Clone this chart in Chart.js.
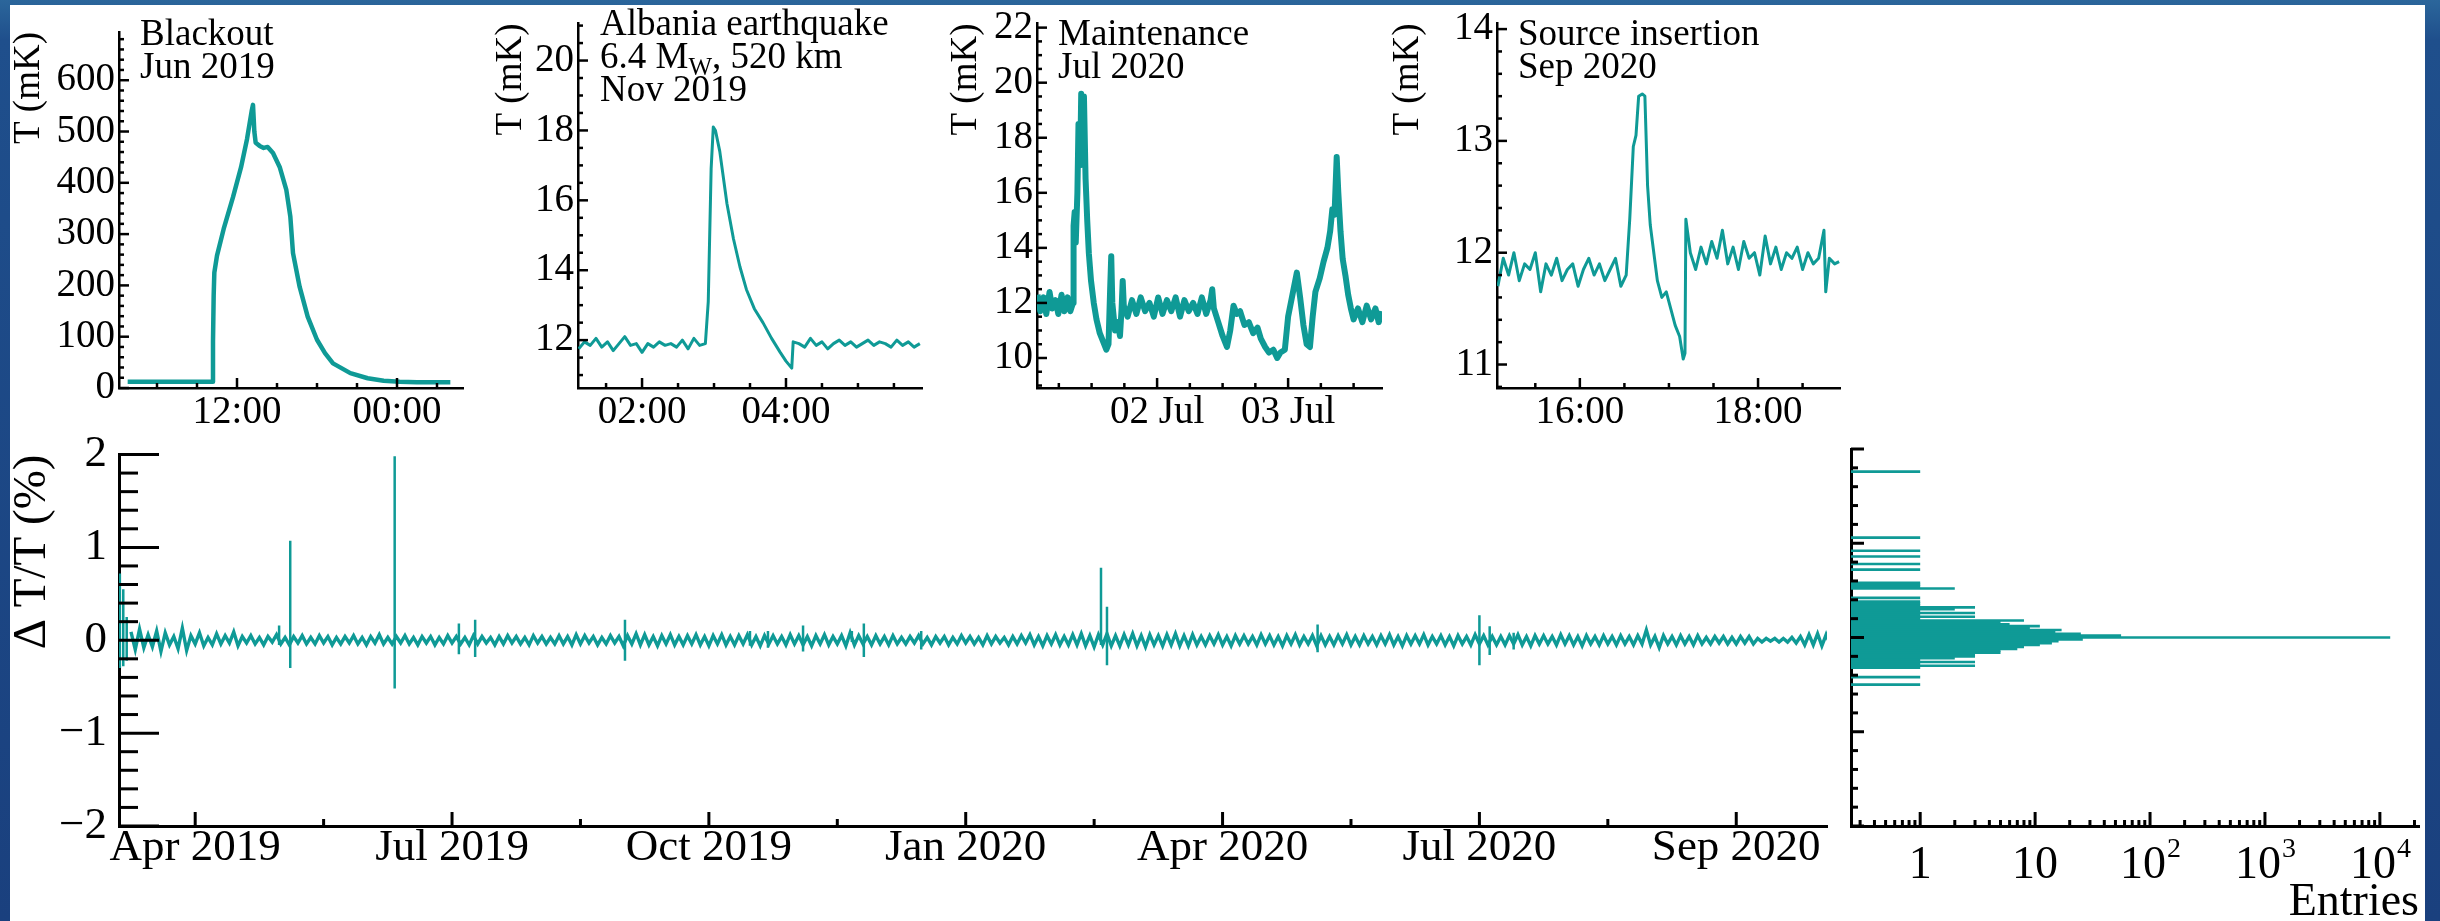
<!DOCTYPE html>
<html>
<head>
<meta charset="utf-8">
<title>Temperature stability</title>
<script src="https://cdn.jsdelivr.net/npm/chart.js@4.4.1/dist/chart.umd.min.js"></script>
<style>
  html, body { margin: 0; padding: 0; }
  body {
    width: 2440px; height: 921px; overflow: hidden; position: relative;
    background: linear-gradient(180deg, #2b669b 0px, #1f4f8c 40px, #1a407e 921px);
    font-family: "Liberation Serif", "Times New Roman", serif;
  }
  #panel { position: absolute; left: 10px; top: 5px; width: 2415px; height: 916px; background: #fff; }
  .box { position: absolute; }
  .box canvas { display: block; }
  .note { position: absolute; font-size: 37px; line-height: 33px; color: #000; white-space: nowrap; }
  .note sub { font-size: 25px; line-height: 0; vertical-align: -7px; }
</style>
</head>
<body>
<div id="panel"></div>
<div class="box" id="boxBlackout"><canvas id="blackoutChart"></canvas></div>
<div class="box" id="boxQuake"><canvas id="quakeChart"></canvas></div>
<div class="box" id="boxMaint"><canvas id="maintChart"></canvas></div>
<div class="box" id="boxSource"><canvas id="sourceChart"></canvas></div>
<div class="box" id="boxMain"><canvas id="mainChart"></canvas></div>
<div class="box" id="boxHist"><canvas id="histChart"></canvas></div>
<div class="note" style="left:140px; top:16px">Blackout<br>Jun 2019</div>
<div class="note" style="left:600px; top:6px">Albania earthquake<br>6.4 M<sub>W</sub>, 520 km<br>Nov 2019</div>
<div class="note" style="left:1058px; top:16px">Maintenance<br>Jul 2020</div>
<div class="note" style="left:1518px; top:16px">Source insertion<br>Sep 2020</div>
<script>
const TEAL = '#0f9a96';
const FONT = '"Liberation Serif", "Times New Roman", serif';

// ---- inset 1: blackout, Jun 2019 (hours from midnight of first day, mK)
const blackoutHours = [3.8, 5.0, 6.5, 8.0, 9.5, 10.15, 10.2, 10.25, 10.3, 10.5,
  11.0, 11.7, 12.3, 12.75, 13.1, 13.2, 13.3, 13.4, 13.7, 14.0,
  14.3, 14.7, 15.2, 15.7, 16.0, 16.2, 16.7, 17.3, 18.0, 18.6,
  19.2, 20.5, 21.8, 23.0, 24.2, 25.5, 27.0, 28.0];
const blackoutTemps = [12, 12, 12, 12, 12, 12, 90, 180, 225, 258,
  310, 372, 430, 485, 540, 552, 500, 478, 472, 468,
  470, 458, 431, 386, 334, 263, 197, 139, 94, 68,
  48, 29, 19, 14, 12, 11, 11, 11];
const blackoutTickHours = [12, 24];
const blackoutTickLabels = ['12:00', '00:00'];
const blackoutTempTicks = [0, 100, 200, 300, 400, 500, 600];

// ---- inset 2: Albania earthquake, Nov 2019
const quakeHours = [1.12, 1.2, 1.28, 1.36, 1.44, 1.52, 1.6, 1.68, 1.76, 1.84, 1.92, 2.0,
  2.08, 2.16, 2.24, 2.32, 2.4, 2.48, 2.56, 2.64, 2.72, 2.8, 2.88,
  2.92, 2.96, 2.99, 3.02, 3.08, 3.18, 3.27, 3.36, 3.45, 3.56, 3.68, 3.8, 3.92, 4.0, 4.08,
  4.1, 4.18, 4.26, 4.34, 4.42, 4.5, 4.58, 4.66, 4.74, 4.82, 4.9, 4.98,
  5.06, 5.14, 5.22, 5.3, 5.38, 5.46, 5.54, 5.62, 5.7, 5.78, 5.86];
const quakeTemps = [11.75, 11.95, 11.85, 12.05, 11.8, 11.95, 11.7, 11.9, 12.1, 11.85, 11.9, 11.65,
  11.9, 11.8, 11.95, 11.85, 11.9, 11.8, 12.0, 11.75, 12.05, 11.85, 11.9,
  13.1, 16.9, 18.1, 18.0, 17.4, 15.9, 14.9, 14.1, 13.45, 12.9, 12.5, 12.05, 11.65, 11.4, 11.2,
  11.95, 11.9, 11.8, 12.05, 11.85, 11.95, 11.75, 11.9, 12.0, 11.85, 11.95, 11.8,
  11.9, 12.0, 11.85, 11.95, 11.9, 11.8, 12.0, 11.85, 11.95, 11.8, 11.9];
const quakeTickHours = [2, 4];
const quakeTickLabels = ['02:00', '04:00'];
const quakeTempTicks = [12, 14, 16, 18, 20];

// ---- inset 3: maintenance, Jul 2020 (hours since 01 Jul 00:00)
const maintHours = [2.1, 2.6, 3.2, 3.7, 4.3, 4.8, 5.4, 5.9, 6.5, 7.0,
  7.6, 8.1, 8.6, 8.7, 8.9, 9.1, 9.4, 9.6, 9.9, 10.1,
  10.4, 10.6, 10.9, 11.2, 11.5, 11.9, 12.4, 12.9, 13.5, 14.1,
  14.7, 15.1, 15.4, 15.6, 15.8, 16.3, 16.8, 17.2, 17.5, 17.7,
  17.9, 18.6, 19.4, 20.2, 21.0, 21.8, 22.6, 23.4, 24.2, 25.0,
  25.8, 26.6, 27.4, 28.2, 29.0, 29.8, 30.6, 31.4, 32.2, 33.0,
  33.8, 34.1, 34.4, 35.2, 36.0, 36.8, 37.4, 38.0, 38.6, 39.2,
  40.0, 40.8, 41.6, 42.4, 43.0, 43.8, 44.5, 45.3, 46.0, 46.6,
  47.4, 48.0, 48.8, 49.6, 50.2, 50.8, 51.4, 52.0, 52.5, 53.0,
  53.8, 54.5, 55.2, 55.7, 56.1, 56.5, 56.9, 57.2, 57.6, 58.0,
  58.5, 59.0, 59.5, 60.0, 60.8, 61.6, 62.4, 63.2, 64.0, 64.6, 65.1];
const maintTemps = [12.3, 11.7, 12.2, 11.6, 12.4, 11.8, 12.1, 11.6, 12.3, 11.7,
  12.2, 11.7, 12.0, 14.8, 15.3, 14.2, 16.0, 18.5, 17.0, 19.6,
  18.2, 19.5, 16.5, 15.0, 13.8, 12.8, 12.0, 11.4, 10.9, 10.6,
  10.3, 10.5, 12.5, 13.7, 12.0, 11.0, 11.3, 10.8, 11.8, 12.8,
  11.9, 11.5, 12.1, 11.6, 12.2, 11.7, 12.0, 11.5, 12.2, 11.6,
  12.1, 11.7, 12.2, 11.5, 12.1, 11.7, 12.0, 11.6, 12.2, 11.6,
  12.1, 12.5, 11.8, 11.3, 10.8, 10.4, 11.0, 11.9, 11.6, 11.7,
  11.2, 11.3, 10.9, 11.1, 10.7, 10.4, 10.2, 10.3, 10.0, 10.2,
  10.3, 11.5, 12.3, 13.1, 12.2, 11.2, 10.5, 10.4, 11.5, 12.4,
  12.9, 13.5, 14.0, 14.6, 15.4, 15.2, 17.3, 16.0, 14.6, 13.6,
  13.0, 12.3, 11.8, 11.4, 11.8, 11.3, 11.9, 11.4, 11.8, 11.3, 11.7];
const maintTickHours = [24, 48];
const maintTickLabels = ['02 Jul', '03 Jul'];
const maintTempTicks = [10, 12, 14, 16, 18, 20, 22];

// ---- inset 4: source insertion, Sep 2020
const sourceHours = [15.08, 15.14, 15.2, 15.26, 15.32, 15.38, 15.44, 15.5, 15.56, 15.62,
  15.68, 15.74, 15.8, 15.86, 15.92, 15.98, 16.04, 16.1, 16.16, 16.22,
  16.28, 16.34, 16.4, 16.46, 16.52,
  16.56, 16.6, 16.63, 16.66, 16.7, 16.73, 16.76, 16.79, 16.83, 16.87,
  16.92, 16.97, 17.02, 17.07, 17.12, 17.16, 17.18, 17.19,
  17.24, 17.3, 17.36, 17.42, 17.48, 17.54, 17.6, 17.66, 17.72, 17.78,
  17.84, 17.9, 17.96, 18.02, 18.08, 18.14, 18.2, 18.26, 18.32, 18.38,
  18.44, 18.5, 18.56, 18.62, 18.68, 18.74, 18.76, 18.8, 18.86, 18.91];
const sourceTemps = [11.7, 11.95, 11.8, 12.0, 11.75, 11.9, 11.85, 12.0, 11.65, 11.9,
  11.8, 11.95, 11.75, 11.85, 11.9, 11.7, 11.85, 11.95, 11.8, 11.9,
  11.75, 11.85, 11.95, 11.7, 11.8,
  12.3, 12.95, 13.05, 13.4, 13.42, 13.4, 12.6, 12.25, 12.0, 11.75,
  11.6, 11.65, 11.5, 11.35, 11.25, 11.05, 11.1, 12.3,
  12.0, 11.85, 12.05, 11.9, 12.1, 11.95, 12.2, 11.9, 12.05, 11.85,
  12.1, 11.95, 12.0, 11.8, 12.15, 11.9, 12.05, 11.85, 12.0, 11.95,
  12.05, 11.85, 12.0, 11.9, 11.95, 12.2, 11.65, 11.95, 11.9, 11.92];
const sourceTickHours = [16, 18];
const sourceTickLabels = ['16:00', '18:00'];
const sourceTempTicks = [11, 12, 13, 14];

// ---- main panel: relative deviation, x in months since 1 Apr 2019
// noise samples every 0.05 month, values in hundredths of a percent
const noiseStartMonth = -0.75;
const noiseStepMonth = 0.05;
const mainNoiseCenti = [
  9, -10, 12, -8, 6, -7, 10, -12, 8, -5, 4, -9, 13, -11, 5, -4, 8, -6, 3, -5,
  7, -4, 5, -3, 9, -6, 4, -3, 5, -4, 3, -5, 4, -2, 6, -4, 3, -5, 4, -3,
  5, -4, 3, -4, 5, -3, 4, -5, 3, -4, 4, -3, 5, -4, 3, -5, 4, -3, 6, -4,
  3, -4, 4, -3, 5, -4, 3, -5, 4, -3, 4, -5, 3, -4, 5, -3, 4, -4, 3, -5,
  5, -4, 4, -3, 3, -5, 4, -4, 5, -3, 4, -4, 3, -5, 5, -3, 4, -4, 3, -4,
  5, -4, 4, -5, 6, -4, 5, -3, 4, -5, 3, -4, 5, -3, 4, -6, 5, -4, 7, -5,
  6, -5, 4, -6, 5, -4, 6, -5, 4, -5, 5, -4, 6, -5, 4, -6, 5, -4, 6, -5,
  4, -5, 5, -4, 6, -5, 4, -6, 5, -4, 5, -4, 4, -5, 6, -4, 5, -5, 4, -6,
  5, -4, 6, -5, 4, -4, 5, -6, 8, -5, 5, -4, 4, -5, 5, -4, 4, -5, 5, -4,
  3, -4, 4, -3, 5, -4, 3, -5, 4, -3, 4, -5, 3, -4, 5, -3, 4, -4, 3, -5,
  5, -4, 4, -3, 3, -5, 4, -4, 5, -3, 6, -5, 4, -6, 5, -4, 6, -5, 4, -5,
  6, -5, 7, -6, 5, -7, 6, -5, 7, -6, 5, -6, 6, -5, 7, -6, 5, -7, 6, -5,
  5, -6, 6, -5, 7, -6, 5, -6, 6, -5, 4, -5, 5, -4, 6, -5, 4, -6, 5, -4,
  5, -4, 4, -5, 6, -4, 5, -5, 4, -6, 5, -4, 6, -5, 4, -4, 5, -6, 5, -5,
  4, -5, 5, -4, 6, -5, 4, -5, 5, -4, 4, -5, 5, -4, 6, -5, 4, -6, 5, -4,
  5, -4, 6, -5, 4, -4, 5, -5, 4, -6, 5, -4, 4, -5, 6, -4, 5, -5, 4, -5,
  4, -5, 5, -4, 6, -5, 4, -6, 5, -4, 5, -4, 4, -5, 6, -4, 5, -5, 4, -6,
  5, -4, 4, -5, 5, -4, 4, -5, 5, -4, 4, -5, 5, -4, 11, -5, 4, -8, 5, -4,
  4, -5, 5, -4, 4, -5, 5, -4, 3, -4, 4, -3, 4, -4, 3, -4, 4, -3, 4, -4,
  2, -2, 2, -1, 2, -2, 2, -2, 3, -3, 4, -5, 6, -5, 7, -6, 6, -5];
const spikeMonths = [-0.88, -0.84, -0.80, 0.98, 1.11, 2.33, 3.08, 3.27, 5.02, 6.48, 6.69,
  7.10, 7.67, 7.81, 8.48, 10.58, 10.65, 13.11, 15.00, 15.12, 15.40];
const spikeHighs = [0.72, 0.55, 0.25, 0.16, 1.07, 1.98, 0.18, 0.22, 0.22, 0.10, 0.10,
  0.16, 0.10, 0.18, 0.10, 0.78, 0.36, 0.17, 0.27, 0.15, 0.08];
const spikeLows = [-0.30, -0.28, -0.22, -0.05, -0.30, -0.52, -0.15, -0.18, -0.22, -0.06, -0.08,
  -0.12, -0.02, -0.18, -0.10, -0.05, -0.27, -0.13, -0.27, -0.16, -0.10];
const mainTickMonths = [0, 3, 6, 9, 12, 15, 18];
const mainTickLabels = ['Apr 2019', 'Jul 2019', 'Oct 2019', 'Jan 2020', 'Apr 2020', 'Jul 2020', 'Sep 2020'];
const deltaTicks = [-2, -1, 0, 1, 2];

// ---- projection histogram
const histBins = [1.76, 1.06, 0.92, 0.86, 0.78, 0.72, 0.58, 0.56, 0.54, 0.52,
  0.42, 0.38, 0.36, 0.34, 0.32, 0.30, 0.28, 0.26, 0.24, 0.22,
  0.20, 0.18, 0.16, 0.14, 0.12, 0.10, 0.08, 0.06, 0.04, 0.02,
  0.00, -0.02, -0.04, -0.06, -0.08, -0.10, -0.12, -0.14, -0.16, -0.18,
  -0.20, -0.22, -0.24, -0.26, -0.28, -0.30, -0.32, -0.42, -0.50];
const histCounts = [1, 1, 1, 1, 1, 1, 1, 1, 1, 2,
  1, 1, 1, 1, 3, 2, 1, 3, 1, 3,
  1, 8, 5, 6, 11, 9, 17, 15, 25, 56,
  12300, 26, 16, 14, 11, 8, 7, 5, 5, 3,
  3, 2, 1, 3, 1, 3, 1, 1, 1];
const histTickValues = [1, 10, 100, 1000, 10000];
const histTickLabels = ['1', '10', '10^2', '10^3', '10^4'];

// inward ROOT-style tick marks
const axisTicks = {
  id: 'axisTicks',
  afterDatasetsDraw(chart, args, opts) {
    const ctx = chart.ctx;
    const a = chart.chartArea;
    ctx.save();
    ctx.strokeStyle = '#000';
    ctx.lineWidth = opts.width;
    ['x', 'y'].forEach(id => {
      const spec = opts[id];
      const scale = chart.scales[id];
      if (!spec || !scale) return;
      const majors = scale.ticks.map(t => t.value);
      const minors = [];
      if (scale.type === 'logarithmic') {
        for (let e = Math.floor(Math.log10(scale.min)); e <= Math.ceil(Math.log10(scale.max)); e++) {
          for (let k = 2; k < 10; k++) minors.push(k * Math.pow(10, e));
        }
      } else {
        const first = Math.ceil(scale.min / spec.minorStep - 1e-6);
        for (let i = first; i * spec.minorStep <= scale.max + 1e-9; i++) minors.push(i * spec.minorStep);
      }
      const mark = (v, len) => {
        if (v < scale.min - 1e-9 || v > scale.max + 1e-9) return;
        const p = scale.getPixelForValue(v);
        ctx.beginPath();
        if (id === 'x') { ctx.moveTo(p, a.bottom); ctx.lineTo(p, a.bottom - len); }
        else { ctx.moveTo(a.left, p); ctx.lineTo(a.left + len, p); }
        ctx.stroke();
      };
      minors.forEach(v => {
        if (!majors.some(m => Math.abs(m - v) < 1e-6 * Math.max(1, Math.abs(m)))) mark(v, spec.minorLen);
      });
      majors.forEach(v => mark(v, spec.majorLen));
    });
    ctx.restore();
  }
};

// 10^n labels under the log axis
const powerLabels = {
  id: 'powerLabels',
  afterDraw(chart, args, opts) {
    const ctx = chart.ctx;
    const scale = chart.scales.x;
    const baseline = chart.chartArea.bottom + opts.drop;
    ctx.save();
    ctx.fillStyle = '#000';
    ctx.textBaseline = 'alphabetic';
    ctx.textAlign = 'left';
    histTickValues.forEach((v, i) => {
      const [base, power] = histTickLabels[i].split('^');
      ctx.font = opts.size + 'px ' + FONT;
      const wb = ctx.measureText(base).width;
      let wp = 0;
      if (power) { ctx.font = opts.supSize + 'px ' + FONT; wp = ctx.measureText(power).width; }
      const x0 = scale.getPixelForValue(v) - (wb + wp) / 2;
      ctx.font = opts.size + 'px ' + FONT;
      ctx.fillText(base, x0, baseline);
      if (power) {
        ctx.font = opts.supSize + 'px ' + FONT;
        ctx.fillText(power, x0 + wb + 1, baseline - opts.supRise);
      }
    });
    ctx.restore();
  }
};

function place(boxId, canvasId, canvasRect, plotRect) {
  const [cl, ct, cr, cb] = canvasRect;
  const [pl, pt, pr, pb] = plotRect;
  const box = document.getElementById(boxId);
  box.style.left = cl + 'px';
  box.style.top = ct + 'px';
  const canvas = document.getElementById(canvasId);
  canvas.width = cr - cl;
  canvas.height = cb - ct;
  return {
    padding: {left: 0, top: pt - ct, right: cr - pr, bottom: 0},
    yWidth: pl - cl,
    xHeight: cb - pb
  };
}

function drawInset(canvasId, boxId, canvasRect, plotRect, c) {
  const L = place(boxId, canvasId, canvasRect, plotRect);
  new Chart(canvasId, {
    type: 'line',
    data: {
      datasets: [{
        data: c.xs.map((x, i) => ({x: x, y: c.ys[i]})),
        borderColor: TEAL,
        borderWidth: c.lineWidth,
        borderJoinStyle: 'round',
        pointRadius: 0,
        tension: 0
      }]
    },
    options: {
      responsive: false,
      animation: false,
      events: [],
      layout: {padding: L.padding},
      plugins: {
        legend: {display: false},
        tooltip: {enabled: false},
        axisTicks: {
          width: 2.5,
          x: {minorStep: c.xMinor, majorLen: 10, minorLen: 5},
          y: {minorStep: c.yMinor, majorLen: 10, minorLen: 5}
        }
      },
      scales: {
        x: {
          type: 'linear', min: c.xMin, max: c.xMax, bounds: 'data',
          grid: {display: false, drawTicks: false},
          border: {display: true, color: '#000', width: 2.5},
          afterFit: s => { s.height = L.xHeight; },
          afterBuildTicks: s => { s.ticks = c.xTicks.map(v => ({value: v})); },
          ticks: {
            color: '#000', padding: 5, maxRotation: 0, autoSkip: false,
            font: {family: FONT, size: 39, lineHeight: 1},
            callback: (v, i) => c.xLabels[i]
          }
        },
        y: {
          type: 'linear', min: c.yMin, max: c.yMax, bounds: 'data',
          grid: {display: false, drawTicks: false},
          border: {display: true, color: '#000', width: 2.5},
          afterFit: s => { s.width = L.yWidth; },
          afterBuildTicks: s => { s.ticks = c.yTicks.map(v => ({value: v})); },
          ticks: {
            color: '#000', padding: 4, autoSkip: false,
            font: {family: FONT, size: 39, lineHeight: 1},
            callback: v => String(v)
          },
          title: {
            display: true, text: 'T (mK)', align: 'end', color: '#000',
            font: {family: FONT, size: 37, lineHeight: 1},
            padding: {top: c.titlePad, bottom: 0}
          }
        }
      }
    },
    plugins: [axisTicks]
  });
}

drawInset('blackoutChart', 'boxBlackout', [0, 0, 490, 440], [119, 32, 463, 388], {
  xs: blackoutHours, ys: blackoutTemps, xMin: 3.15, xMax: 28.95, yMin: 0, yMax: 694,
  xTicks: blackoutTickHours, xLabels: blackoutTickLabels, yTicks: blackoutTempTicks,
  xMinor: 3, yMinor: 20, lineWidth: 4.5, titlePad: 11
});
drawInset('quakeChart', 'boxQuake', [470, 0, 940, 440], [578, 23, 922, 388], {
  xs: quakeHours, ys: quakeTemps, xMin: 1.11, xMax: 5.89, yMin: 10.63, yMax: 21.06,
  xTicks: quakeTickHours, xLabels: quakeTickLabels, yTicks: quakeTempTicks,
  xMinor: 0.5, yMinor: 0.5, lineWidth: 3, titlePad: 23
});
drawInset('maintChart', 'boxMaint', [930, 0, 1400, 440], [1037, 23, 1382, 388], {
  xs: maintHours, ys: maintTemps, xMin: 2.0, xMax: 65.2, yMin: 8.91, yMax: 22.15,
  xTicks: maintTickHours, xLabels: maintTickLabels, yTicks: maintTempTicks,
  xMinor: 6, yMinor: 0.5, lineWidth: 6, titlePad: 18
});
drawInset('sourceChart', 'boxSource', [1390, 0, 1860, 440], [1497, 23, 1840, 388], {
  xs: sourceHours, ys: sourceTemps, xMin: 15.07, xMax: 18.92, yMin: 10.79, yMax: 14.05,
  xTicks: sourceTickHours, xLabels: sourceTickLabels, yTicks: sourceTempTicks,
  xMinor: 0.5, yMinor: 0.2, lineWidth: 3, titlePad: 0
});

// main time series
const mainL = place('boxMain', 'mainChart', [0, 420, 1840, 921], [119, 449, 1827, 826]);
const noisePoints = mainNoiseCenti.map((v, i) => ({x: noiseStartMonth + i * noiseStepMonth, y: v / 100}));
const spikePoints = spikeMonths.flatMap((m, i) => [
  {x: m, y: 0}, {x: m, y: spikeHighs[i]}, {x: m, y: spikeLows[i]}, {x: m, y: 0}, {x: m, y: null}
]);
new Chart('mainChart', {
  type: 'line',
  data: {
    datasets: [
      {data: noisePoints, borderColor: TEAL, borderWidth: 3.4, pointRadius: 0, tension: 0},
      {data: spikePoints, borderColor: TEAL, borderWidth: 2.5, pointRadius: 0, tension: 0, spanGaps: false}
    ]
  },
  options: {
    responsive: false,
    animation: false,
    events: [],
    layout: {padding: mainL.padding},
    plugins: {
      legend: {display: false},
      tooltip: {enabled: false},
      axisTicks: {
        width: 3,
        x: {minorStep: 1.5, majorLen: 14, minorLen: 7},
        y: {minorStep: 0.2, majorLen: 40, minorLen: 19}
      }
    },
    scales: {
      x: {
        type: 'linear', min: -0.89, max: 19.06, bounds: 'data',
        grid: {display: false, drawTicks: false},
        border: {display: true, color: '#000', width: 3},
        afterFit: s => { s.height = mainL.xHeight; },
        afterBuildTicks: s => { s.ticks = mainTickMonths.map(v => ({value: v})); },
        ticks: {
          color: '#000', padding: 0, maxRotation: 0, autoSkip: false,
          font: {family: FONT, size: 45, lineHeight: 1},
          callback: (v, i) => mainTickLabels[i]
        }
      },
      y: {
        type: 'linear', min: -2, max: 2, bounds: 'data',
        grid: {display: false, drawTicks: false},
        border: {display: true, color: '#000', width: 3},
        afterFit: s => { s.width = mainL.yWidth; },
        afterBuildTicks: s => { s.ticks = deltaTicks.map(v => ({value: v})); },
        ticks: {
          color: '#000', padding: 12, autoSkip: false,
          font: {family: FONT, size: 45, lineHeight: 1},
          callback: v => String(v).replace('-', '\u2212')
        },
        title: {
          display: true, text: '\u0394 T/T (%)', align: 'end', color: '#000',
          font: {family: FONT, size: 47, lineHeight: 1},
          padding: {top: 9, bottom: 0}
        }
      }
    }
  },
  plugins: [axisTicks]
});

// projection histogram, log entries axis
const histL = place('boxHist', 'histChart', [1840, 420, 2425, 921], [1851, 449, 2419, 826]);
new Chart('histChart', {
  type: 'bar',
  data: {
    datasets: [{
      data: histBins.map((b, i) => ({x: histCounts[i], y: b})),
      backgroundColor: TEAL,
      borderWidth: 0,
      barPercentage: 1.4,
      categoryPercentage: 1
    }]
  },
  options: {
    indexAxis: 'y',
    responsive: false,
    animation: false,
    events: [],
    layout: {padding: histL.padding},
    plugins: {
      legend: {display: false},
      tooltip: {enabled: false},
      axisTicks: {
        width: 3,
        x: {majorLen: 14, minorLen: 6},
        y: {minorStep: 0.2, majorLen: 13, minorLen: 7}
      },
      powerLabels: {size: 46, supSize: 28, supRise: 21, drop: 52}
    },
    scales: {
      x: {
        type: 'logarithmic', min: 0.25, max: 21900, bounds: 'data',
        grid: {display: false, drawTicks: false},
        border: {display: true, color: '#000', width: 3},
        afterFit: s => { s.height = histL.xHeight; },
        afterBuildTicks: s => { s.ticks = histTickValues.map(v => ({value: v})); },
        ticks: {display: false},
        title: {
          display: true, text: 'Entries', align: 'end', color: '#000',
          font: {family: FONT, size: 46, lineHeight: 0.8},
          padding: {top: 0, bottom: 0}
        }
      },
      y: {
        type: 'linear', min: -2, max: 2, bounds: 'data', offset: false,
        grid: {display: false, drawTicks: false, offset: false},
        border: {display: true, color: '#000', width: 3},
        afterFit: s => { s.width = histL.yWidth; },
        afterBuildTicks: s => { s.ticks = deltaTicks.map(v => ({value: v})); },
        ticks: {display: false}
      }
    }
  },
  plugins: [axisTicks, powerLabels]
});
</script>
</body>
</html>
